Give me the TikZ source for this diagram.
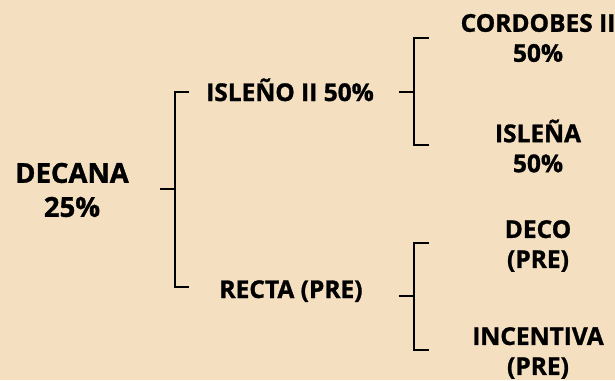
\documentclass[tikz,border=0pt]{standalone}
\usepackage{fontspec}
\setmainfont{Open Sans}[BoldFeatures={FakeBold=1.2}]
\definecolor{bg}{HTML}{F5DFC1}
\begin{document}
\begin{tikzpicture}[x=1pt,y=-1pt,
  lbl/.style={font=\fontsize{24.5}{30}\selectfont\bfseries, align=center, inner sep=0pt},
  biglbl/.style={font=\fontsize{27.5}{34}\selectfont\bfseries, align=center, inner sep=0pt},
  br/.style={line width=2.8pt, line cap=rect, line join=miter}]
\fill[bg] (0,0) rectangle (615,380);
\useasboundingbox (0,0) rectangle (615,380);
% labels
\node[biglbl] (dec) at (72,190) {DECANA\\25\%};
\node[lbl, anchor=base] (isl) at (290,101) {ISLEÑO II 50\%};
\node[lbl, anchor=base] (rec) at (291,298) {RECTA (PRE)};
\node[lbl] (cor) at (538,38) {CORDOBES II\\50\%};
\node[lbl] (isa) at (538,146) {ISLEÑA\\50\%};
\node[lbl] (dco) at (538,246) {DECO\\(PRE)};
\node[lbl] (inc) at (538,353) {INCENTIVA\\(PRE)};
% bracket coordinates
\coordinate (m0) at (161,189);
\coordinate (m1) at (175,189);
\coordinate (mt) at (188,92);
\coordinate (mb) at (188,287);
\coordinate (u0) at (400,92);
\coordinate (u1) at (414,92);
\coordinate (ut) at (428,38);
\coordinate (ub) at (428,145);
\coordinate (l0) at (400,296);
\coordinate (l1) at (414,296);
\coordinate (lt) at (428,243);
\coordinate (lb) at (428,350);
% brackets
\draw[br] (m0) -- (m1);
\draw[br] (mt) -- (mt -| m1) -- (mb -| m1) -- (mb);
\draw[br] (u0) -- (u1);
\draw[br] (ut) -- (ut -| u1) -- (ub -| u1) -- (ub);
\draw[br] (l0) -- (l1);
\draw[br] (lt) -- (lt -| l1) -- (lb -| l1) -- (lb);
\end{tikzpicture}
\end{document}
